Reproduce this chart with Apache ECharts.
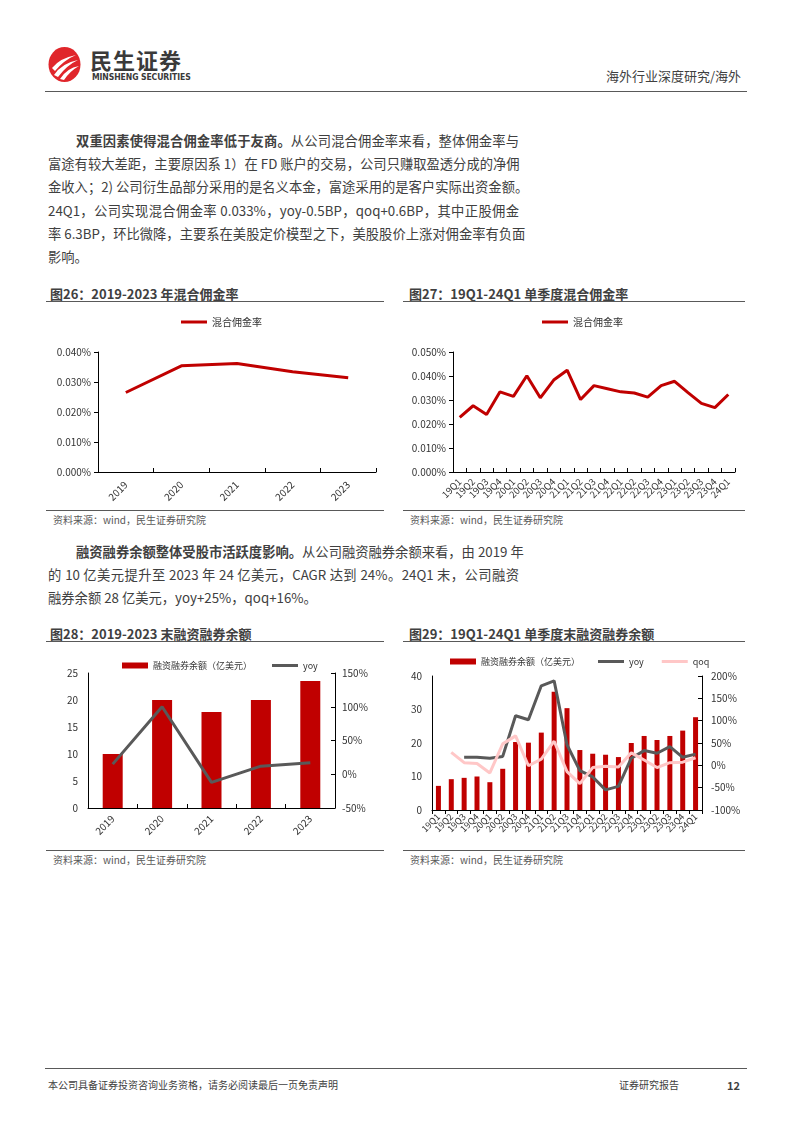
<!DOCTYPE html>
<html><head><meta charset="utf-8">
<script src="https://cdn.jsdelivr.net/npm/echarts@6/dist/echarts.min.js"></script>
<style>
html,body{margin:0;padding:0;background:#fff;}
body{width:794px;height:1123px;position:relative;overflow:hidden;font-family:"Noto Sans CJK SC","Noto Sans",sans-serif;color:#404040;}
.abs{position:absolute;}
.ln{position:absolute;left:48px;width:471px;height:20px;line-height:20px;font-size:13.3px;white-space:nowrap;text-align:justify;text-align-last:justify;color:#404040;}
.ln.last{text-align-last:left;}
.ttl{position:absolute;font-size:13px;font-weight:bold;color:#404040;height:18px;line-height:18px;white-space:nowrap;}
.hr{position:absolute;height:0;border-top:1.3px solid #595959;}
.src{position:absolute;font-size:10px;color:#595959;height:14px;line-height:14px;white-space:nowrap;}
.chart{position:absolute;}
</style></head><body>
<!-- header -->
<svg class="abs" style="left:48px;top:46px" width="34" height="37" viewBox="0 0 34 37">
  <ellipse cx="16.5" cy="18.5" rx="16" ry="17.5" fill="#E0262B"/>
  <path d="M4 22 Q12 12 28 9 Q16 14 7 25 Z" fill="#fff"/>
  <path d="M6 29 Q14 17 30 14 Q19 19 10 31 Z" fill="#fff"/>
  <path d="M12 33 Q19 22 31 20 Q22 25 16 34 Z" fill="#fff"/>
</svg>
<div class="abs" style="left:90px;top:46px;font-size:22px;font-weight:bold;color:#3a3a3a;letter-spacing:1px;line-height:26px;">民生证券</div>
<div class="abs" style="left:92px;top:72px;font-size:8.6px;font-weight:bold;color:#3a3a3a;line-height:11px;letter-spacing:-0.1px;font-family:'Liberation Sans Narrow','DejaVu Sans Condensed','Liberation Sans',sans-serif;">MINSHENG SECURITIES</div>
<div class="abs" style="left:606px;top:67px;font-size:13px;color:#404040;line-height:18px;white-space:nowrap;">海外行业深度研究/海外</div>
<div class="hr" style="left:45px;top:91px;width:702px;"></div>

<!-- paragraph 1 -->
<div class="ln" style="top:131px;left:76px;width:443px;"><b>双重因素使得混合佣金率低于友商。</b>从公司混合佣金率来看，整体佣金率与</div>
<div class="ln" style="top:154px;">富途有较大差距，主要原因系 1）在 FD 账户的交易，公司只赚取盈透分成的净佣</div>
<div class="ln" style="top:177px;">金收入；2) 公司衍生品部分采用的是名义本金，富途采用的是客户实际出资金额。</div>
<div class="ln" style="top:201px;">24Q1，公司实现混合佣金率 0.033%，yoy-0.5BP，qoq+0.6BP，其中正股佣金</div>
<div class="ln" style="top:224px;">率 6.3BP，环比微降，主要系在美股定价模型之下，美股股价上涨对佣金率有负面</div>
<div class="ln last" style="top:247px;">影响。</div>

<!-- figure titles row 1 -->
<div class="ttl" style="left:50px;top:285px;">图26：2019-2023 年混合佣金率</div>
<div class="hr" style="left:46px;top:301px;width:338px;"></div>
<div class="ttl" style="left:409px;top:285px;">图27：19Q1-24Q1 单季度混合佣金率</div>
<div class="hr" style="left:403px;top:301px;width:342px;"></div>
<div id="c26" class="chart" style="left:46px;top:305px;width:340px;height:205px;"></div>
<div id="c27" class="chart" style="left:403px;top:305px;width:342px;height:205px;"></div>
<div class="hr" style="left:46px;top:510px;width:338px;"></div>
<div class="hr" style="left:403px;top:510px;width:342px;"></div>
<div class="src" style="left:53px;top:513px;">资料来源：wind，民生证券研究院</div>
<div class="src" style="left:410px;top:513px;">资料来源：wind，民生证券研究院</div>

<!-- paragraph 2 -->
<div class="ln" style="top:542px;left:76px;width:443px;"><b>融资融券余额整体受股市活跃度影响。</b>从公司融资融券余额来看，由 2019 年</div>
<div class="ln" style="top:565px;">的 10 亿美元提升至 2023 年 24 亿美元，CAGR 达到 24%。24Q1 末，公司融资</div>
<div class="ln last" style="top:588px;">融券余额 28 亿美元，yoy+25%，qoq+16%。</div>

<!-- figure titles row 2 -->
<div class="ttl" style="left:50px;top:625px;">图28：2019-2023 末融资融券余额</div>
<div class="hr" style="left:46px;top:641px;width:338px;"></div>
<div class="ttl" style="left:409px;top:625px;">图29：19Q1-24Q1 单季度末融资融券余额</div>
<div class="hr" style="left:403px;top:641px;width:342px;"></div>
<div id="c28" class="chart" style="left:46px;top:645px;width:340px;height:205px;"></div>
<div id="c29" class="chart" style="left:403px;top:645px;width:342px;height:205px;"></div>
<div class="hr" style="left:46px;top:850px;width:338px;"></div>
<div class="hr" style="left:403px;top:850px;width:342px;"></div>
<div class="src" style="left:53px;top:853px;">资料来源：wind，民生证券研究院</div>
<div class="src" style="left:410px;top:853px;">资料来源：wind，民生证券研究院</div>

<!-- footer -->
<div class="hr" style="left:45px;top:1068px;width:702px;"></div>
<div class="src" style="left:48px;top:1078px;color:#404040;">本公司具备证券投资咨询业务资格，请务必阅读最后一页免责声明</div>
<div class="src" style="left:619px;top:1078px;color:#404040;">证券研究报告</div>
<div class="src" style="left:727px;top:1078px;color:#404040;font-weight:bold;font-size:11px;">12</div>

<script>
// ---- data ----
const years = ['2019','2020','2021','2022','2023'];
const yearRate = [0.0265, 0.0354, 0.0362, 0.0334, 0.0314];   // 混合佣金率 (%)
const quarters = ['19Q1','19Q2','19Q3','19Q4','20Q1','20Q2','20Q3','20Q4','21Q1','21Q2','21Q3','21Q4','22Q1','22Q2','22Q3','22Q4','23Q1','23Q2','23Q3','23Q4','24Q1'];
const quarterRate = [0.0228,0.0276,0.0240,0.0334,0.0315,0.0401,0.0309,0.0383,0.0424,0.0302,0.0360,0.0347,0.0334,0.0329,0.0312,0.0360,0.0378,0.0331,0.0286,0.0268,0.0323];
const yearMargin = [10.0, 20.0, 17.8, 20.0, 23.5];          // 融资融券余额（亿美元）
const yearMarginYoy = [15, 100, -12, 12, 17];               // yoy %
const qMargin = [7.2,9.2,9.6,10.0,8.3,12.3,20.3,20.1,23.1,35.3,30.4,17.9,16.8,16.5,15.8,20.0,22.1,20.9,22.1,23.7,27.7];
const qYoy = [null,null,18,18,16,20,111,102,178,189,46,-12,-26,-55,-47,16,33,27,42,18,25];
const qQoq = [null,29,6,4,-17,48,66,-1,14,54,-14,-41,-5,-2,-4,28,12,-5,6,7,17];

const RED = '#C00000', GRAY = '#595959', PINK = '#FFC7C7';
const FONT = '"Noto Sans CJK SC","Noto Sans",sans-serif';
const lab = {color:'#333', fontSize:10, fontFamily:FONT};
const axLine = {show:true, lineStyle:{color:'#000', width:1}};
const LINE_ICON = 'path://M0,0H26V3H0Z';

function rateChart(id, cats, vals, max, gridLeft, legendLeft, xFont, xMargin){
  const c = echarts.init(document.getElementById(id), null, {renderer:'canvas'});
  c.setOption({
    animation:false,
    textStyle:{fontFamily:FONT},
    legend:{data:['混合佣金率'], left:legendLeft, top:12, padding:0, icon:'rect', itemWidth:26, itemHeight:3,
      textStyle:{color:'#333', fontSize:10, fontFamily:FONT}},
    grid:{left:gridLeft, right:10, top:47, bottom:38},
    xAxis:{type:'category', data:cats, boundaryGap:true, axisLine:axLine,
      axisTick:{show:true, inside:true, length:4, lineStyle:{color:'#000'}},
      axisLabel:Object.assign({}, lab, {rotate:45, interval:0, fontSize:xFont, margin:xMargin})},
    yAxis:{type:'value', min:0, max:max, interval:0.01, axisLine:axLine,
      axisTick:{show:true, length:4, lineStyle:{color:'#000'}},
      splitLine:{show:false},
      axisLabel:Object.assign({}, lab, {margin:7, formatter:v=>v.toFixed(3)+'%'})},
    series:[{name:'混合佣金率', type:'line', data:vals, symbol:'none',
      lineStyle:{color:RED, width:3}, itemStyle:{color:RED}}]
  });
}
rateChart('c26', years, yearRate, 0.04, 52, 135, 10, 11);
rateChart('c27', quarters, quarterRate, 0.05, 50, 139, 9.5, 8);

// chart 28
(function(){
  const c = echarts.init(document.getElementById('c28'));
  c.setOption({
    animation:false,
    textStyle:{fontFamily:FONT},
    legend:{top:16, left:76, padding:0, itemGap:20, itemWidth:26, itemHeight:6, symbolKeepAspect:true,
      textStyle:{color:'#333', fontSize:9, fontFamily:FONT},
      data:[{name:'融资融券余额（亿美元）', icon:'rect'},
            {name:'yoy', icon:LINE_ICON}]},
    grid:{left:42, right:51, top:28, bottom:42},
    xAxis:{type:'category', data:years, axisLine:axLine,
      axisTick:{show:true, inside:true, length:4, lineStyle:{color:'#000'}},
      axisLabel:Object.assign({}, lab, {rotate:45, interval:0, margin:9})},
    yAxis:[
      {type:'value', min:0, max:25, interval:5, axisLine:axLine,
       axisTick:{show:false}, splitLine:{show:false}, axisLabel:Object.assign({}, lab, {margin:10})},
      {type:'value', min:-50, max:150, interval:50, position:'right', axisLine:axLine,
       axisTick:{show:true, inside:true, length:4, lineStyle:{color:'#000'}}, splitLine:{show:false},
       axisLabel:Object.assign({}, lab, {margin:7, formatter:'{value}%'})}
    ],
    series:[
      {name:'融资融券余额（亿美元）', type:'bar', data:yearMargin, barWidth:20, itemStyle:{color:RED}},
      {name:'yoy', type:'line', yAxisIndex:1, data:yearMarginYoy, symbol:'none',
       lineStyle:{color:GRAY, width:3}, itemStyle:{color:GRAY}}
    ]
  });
})();

// chart 29
(function(){
  const c = echarts.init(document.getElementById('c29'));
  c.setOption({
    animation:false,
    textStyle:{fontFamily:FONT},
    legend:{top:12, left:47, padding:0, itemGap:18, itemWidth:26, itemHeight:6, symbolKeepAspect:true,
      textStyle:{color:'#333', fontSize:9, fontFamily:FONT},
      data:[{name:'融资融券余额（亿美元）', icon:'rect'},
            {name:'yoy', icon:LINE_ICON},
            {name:'qoq', icon:LINE_ICON}]},
    grid:{left:29, right:43, top:31, bottom:40},
    xAxis:{type:'category', data:quarters, axisLine:axLine,
      axisTick:{show:true, length:4, lineStyle:{color:'#000'}},
      axisLabel:Object.assign({}, lab, {rotate:45, interval:0, fontSize:9, margin:5})},
    yAxis:[
      {type:'value', min:0, max:40, interval:10, axisLine:axLine,
       axisTick:{show:false}, splitLine:{show:false}, axisLabel:Object.assign({}, lab, {margin:10})},
      {type:'value', min:-100, max:200, interval:50, position:'right', axisLine:axLine,
       axisTick:{show:true, inside:true, length:4, lineStyle:{color:'#000'}}, splitLine:{show:false},
       axisLabel:Object.assign({}, lab, {margin:9, formatter:'{value}%'})}
    ],
    series:[
      {name:'融资融券余额（亿美元）', type:'bar', data:qMargin, barWidth:5, itemStyle:{color:RED}},
      {name:'yoy', type:'line', yAxisIndex:1, data:qYoy, symbol:'none', connectNulls:false,
       lineStyle:{color:GRAY, width:3}, itemStyle:{color:GRAY}},
      {name:'qoq', type:'line', yAxisIndex:1, data:qQoq, symbol:'none',
       lineStyle:{color:PINK, width:3}, itemStyle:{color:PINK}}
    ]
  });
})();
</script>
</body></html>
